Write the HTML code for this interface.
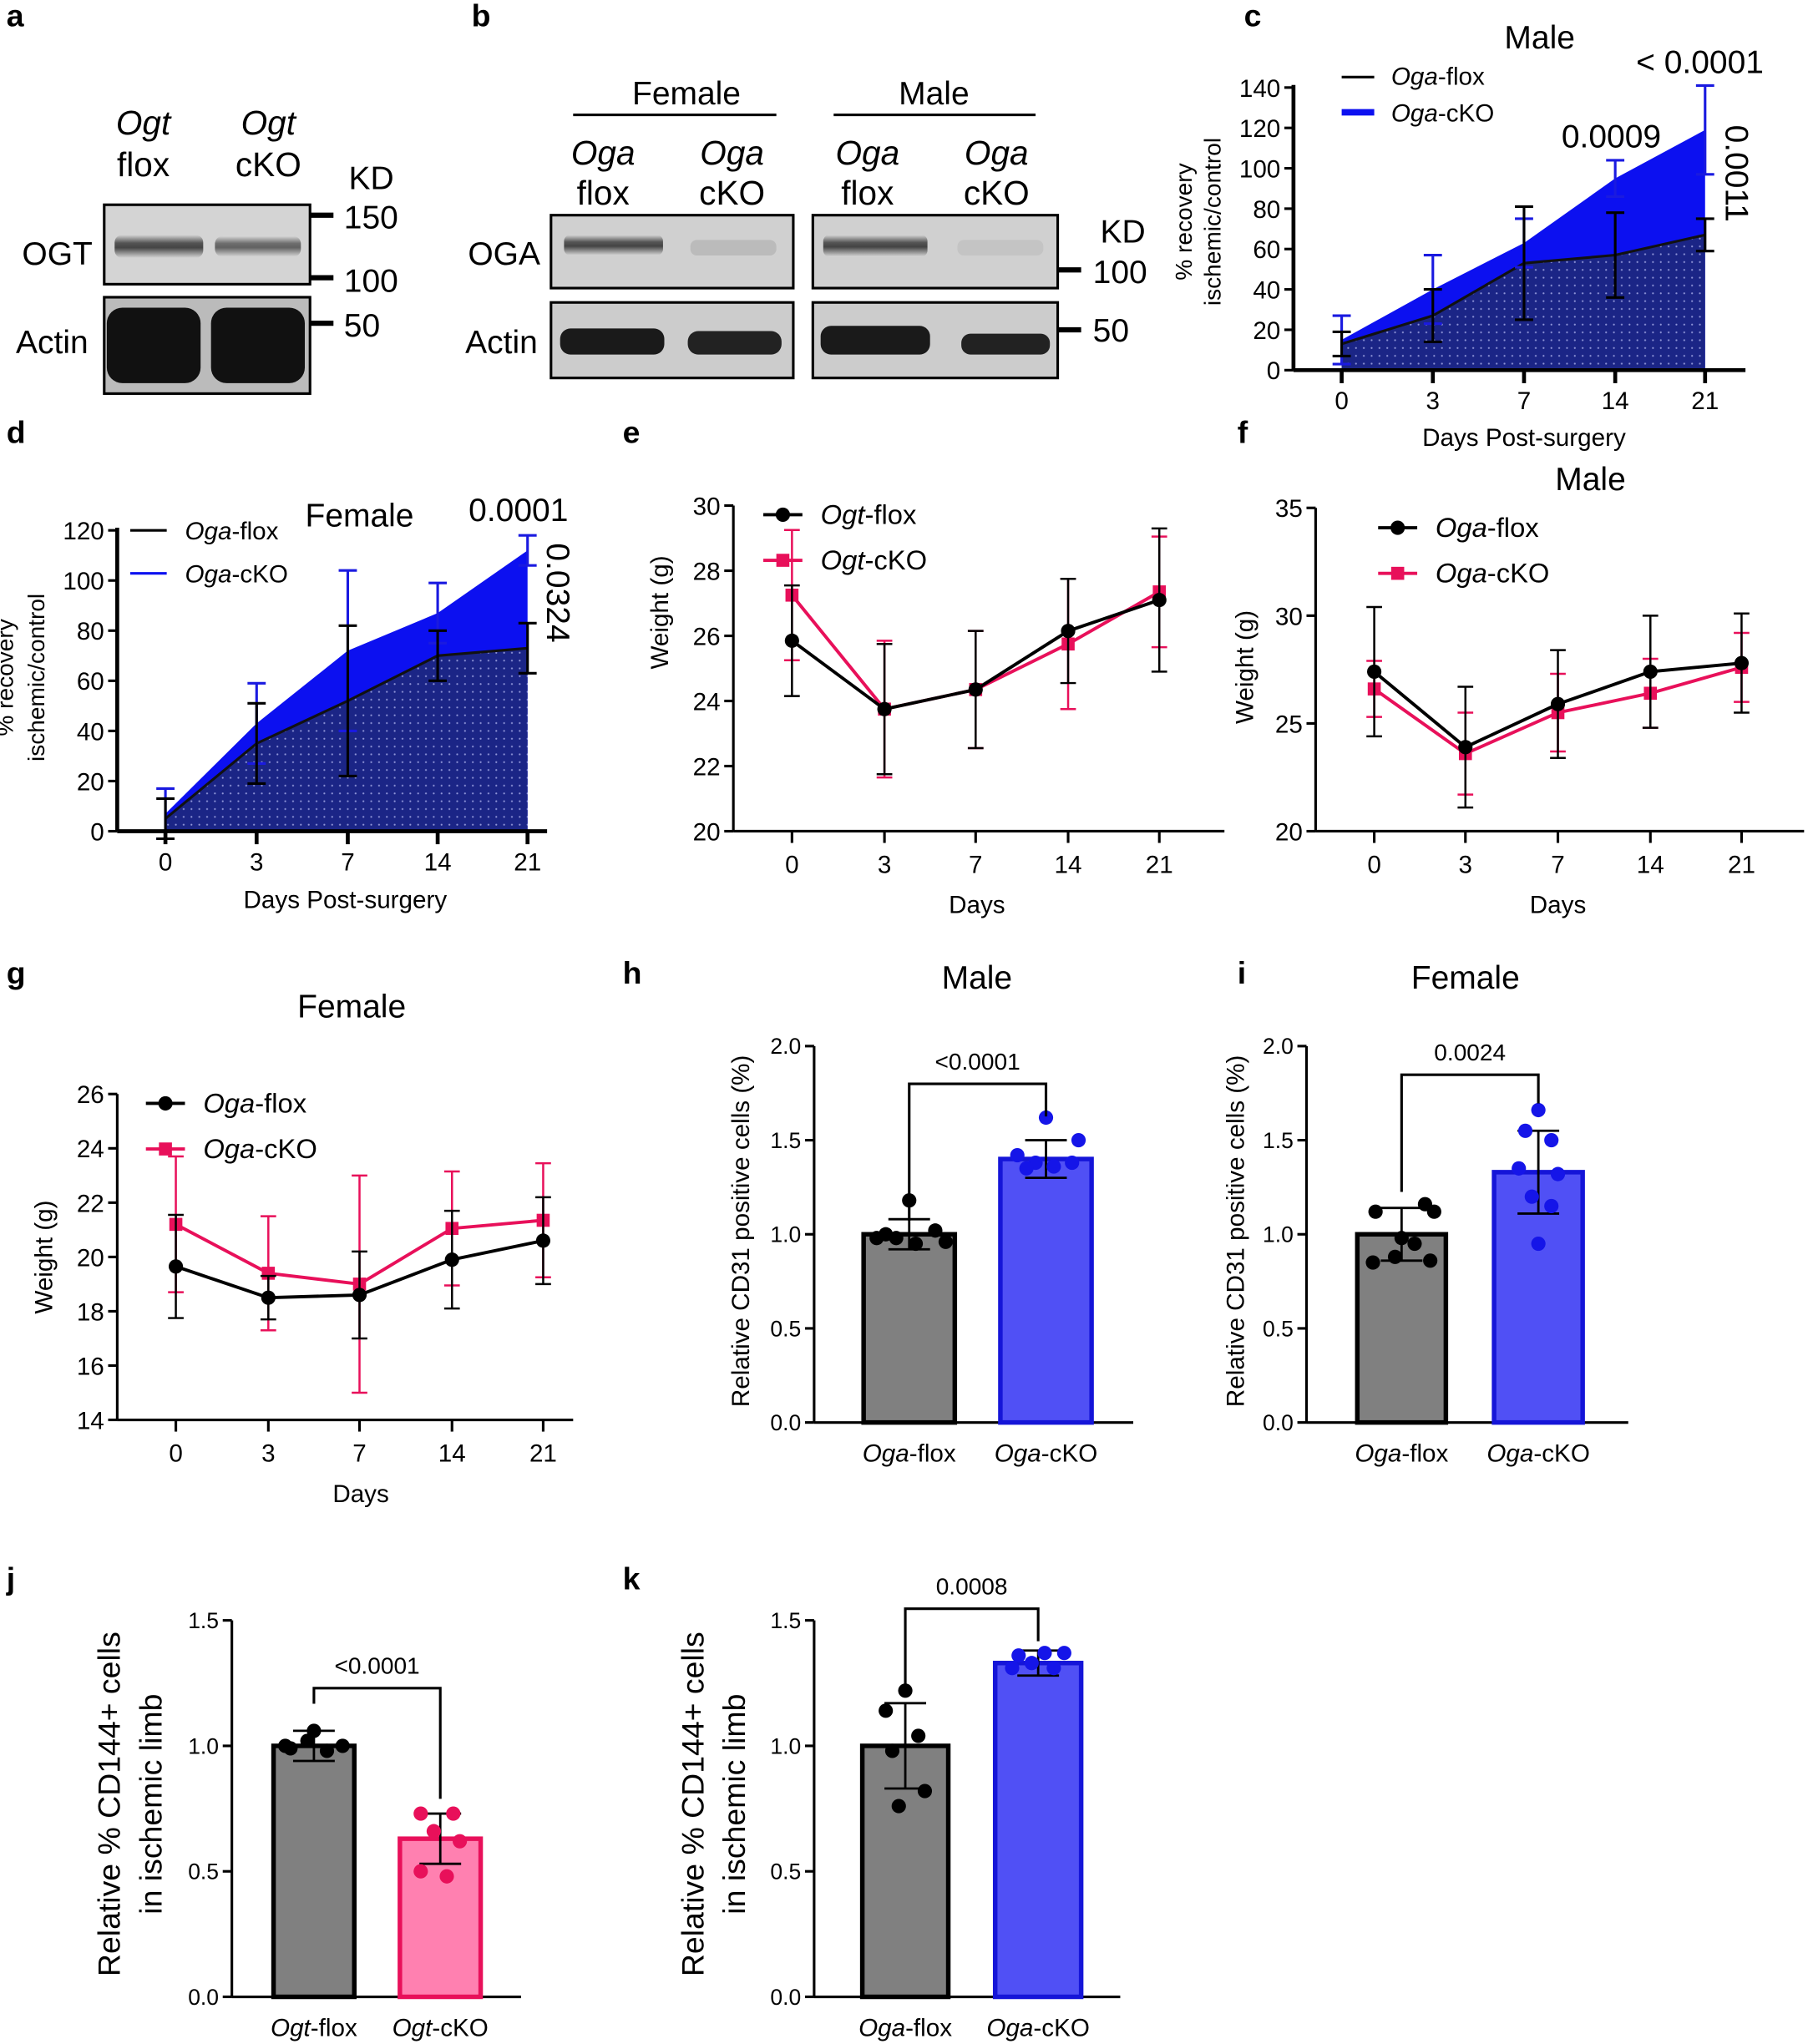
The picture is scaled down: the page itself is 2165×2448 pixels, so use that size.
<!DOCTYPE html>
<html><head><meta charset="utf-8"><style>
html,body{margin:0;padding:0;background:#fff}
svg{display:block}
text{font-family:"Liberation Sans",Arial,sans-serif;fill:#000}
</style></head><body>
<svg id="s" xmlns="http://www.w3.org/2000/svg" width="2165" height="2448" viewBox="0 0 1388 1569">
<defs>
<pattern id="dots" width="6" height="6" patternUnits="userSpaceOnUse"><rect width="6" height="6" fill="#1b2586"/><circle cx="3" cy="3" r="0.7" fill="#8f95d8"/></pattern>
<linearGradient id="band" x1="0" x2="0" y1="0" y2="1"><stop offset="0" stop-color="#d8d8d8"/><stop offset="0.35" stop-color="#555"/><stop offset="0.55" stop-color="#444"/><stop offset="1" stop-color="#d8d8d8"/></linearGradient>
</defs>
</svg>
<script>
const S=document.getElementById('s');let h='';
function T(x,y,t,sz,o){o=o||{};h+=`<text x="${x}" y="${y}" font-size="${sz}" text-anchor="${o.a||'middle'}" ${o.b?'font-weight="bold"':''} ${o.r!==undefined?`transform="rotate(${o.r} ${x} ${y})"`:''} ${o.i?'font-style="italic"':''}>${t}</text>`;}
function TI(x,y,it,rest,sz,o){o=o||{};h+=`<text x="${x}" y="${y}" font-size="${sz}" text-anchor="${o.a||'middle'}" ${o.r!==undefined?`transform="rotate(${o.r} ${x} ${y})"`:''}><tspan font-style="italic">${it}</tspan>${rest}</text>`;}
function L(x1,y1,x2,y2,c,w){h+=`<line x1="${x1}" y1="${y1}" x2="${x2}" y2="${y2}" stroke="${c||'#000'}" stroke-width="${w||2}"/>`;}
function R(x,y,w,hh,f,st,sw){h+=`<rect x="${x}" y="${y}" width="${w}" height="${hh}" fill="${f}" ${st?`stroke="${st}" stroke-width="${sw||2}"`:''}/>`;}
// panel letters
[['a',5,20],['b',362,20],['c',955,20],['d',5,340],['e',478,340],['f',950,340],['g',5,755],['h',478,755],['i',950,755],['j',5,1220],['k',478,1220]].forEach(p=>T(p[1],p[2],p[0],24,{b:1,a:'start'}));
// panel a
T(110,103,'Ogt',26,{i:1});T(110,135,'flox',26);T(206,103,'Ogt',26,{i:1});T(206,135,'cKO',26);
T(285,145,'KD',25);
R(80,157,158,61,'#d4d4d4','#000',2);
h+=`<rect x="88" y="180" width="68" height="18" rx="6" fill="url(#band)"/><rect x="165" y="181" width="66" height="16" rx="6" fill="url(#band)" opacity="0.8"/>`;
R(80,228,158,74,'#bbb','#000',2);
h+=`<rect x="82" y="236" width="72" height="58" rx="12" fill="#111"/><rect x="162" y="236" width="72" height="58" rx="12" fill="#111"/>`;
L(238,165,256,165,'#000',4);L(238,213,256,213,'#000',4);L(238,248,256,248,'#000',4);
T(264,175,'150',25,{a:'start'});T(264,224,'100',25,{a:'start'});T(264,258,'50',25,{a:'start'});
T(44,203,'OGT',25);T(40,271,'Actin',25);
// panel b
T(527,80,'Female',25);L(440,88,596,88,'#000',2);T(717,80,'Male',25);L(640,88,795,88,'#000',2);
[[463,'Oga','flox'],[562,'Oga','cKO'],[666,'Oga','flox'],[765,'Oga','cKO']].forEach(p=>{T(p[0],126,p[1],26,{i:1});T(p[0],157,p[2],26);});
R(423,165,186,56,'#d0d0d0','#000',2);R(624,165,188,56,'#d0d0d0','#000',2);
h+=`<rect x="433" y="180" width="76" height="16" rx="5" fill="url(#band)"/><rect x="530" y="184" width="66" height="12" rx="5" fill="#bbb"/><rect x="632" y="180" width="80" height="17" rx="5" fill="url(#band)"/><rect x="735" y="184" width="66" height="12" rx="5" fill="#c4c4c4"/>`;
R(423,232,186,58,'#ccc','#000',2);R(624,232,188,58,'#ccc','#000',2);
h+=`<rect x="430" y="252" width="80" height="20" rx="8" fill="#1a1a1a"/><rect x="528" y="254" width="72" height="18" rx="8" fill="#222"/><rect x="630" y="250" width="84" height="22" rx="8" fill="#1a1a1a"/><rect x="738" y="256" width="68" height="16" rx="7" fill="#222"/>`;
T(862,186,'KD',25);L(812,207,830,207,'#000',4);L(812,253,830,253,'#000',4);T(839,217,'100',25,{a:'start'});T(839,262,'50',25,{a:'start'});
T(387,203,'OGA',25);T(385,271,'Actin',25);
// area charts
function area(o){const Y=v=>o.y0-(v-o.min)*o.k;
 const xs=o.xs;
 // cKO area
 let p=`M${xs[0]},${Y(0)} `+xs.map((x,i)=>`L${x},${Y(o.ko[i])}`).join(' ')+` L${xs[4]},${Y(0)}Z`;
 h+=`<path d="${p}" fill="#0c10f0"/>`;
 p=`M${xs[0]},${Y(0)} `+xs.map((x,i)=>`L${x},${Y(o.fl[i])}`).join(' ')+` L${xs[4]},${Y(0)}Z`;
 h+=`<path d="${p}" fill="url(#dots)"/>`;
 h+=`<polyline points="${xs.map((x,i)=>x+','+Y(o.fl[i])).join(' ')}" fill="none" stroke="#111" stroke-width="2"/>`;
 xs.forEach((x,i)=>{const a=Y(o.ko[i]+o.koe[i]),b=Y(o.ko[i]-o.koe[i]);L(x,a,x,b,'#1a1ae0',2);L(x-7,a,x+7,a,'#1a1ae0',2);L(x-7,b,x+7,b,'#1a1ae0',2);
  const c=Y(o.fl[i]+o.fle[i]),d=Y(o.fl[i]-o.fle[i]);L(x,c,x,d,'#000',2);L(x-7,c,x+7,c,'#000',2);L(x-7,d,x+7,d,'#000',2);});
 L(o.ax,Y(0),o.ax,o.ytop,'#000',3);L(o.ax,Y(0),o.xend,Y(0),'#000',3);
 o.ticks.forEach(t=>{L(o.ax-7,Y(t),o.ax,Y(t),'#000',2);T(o.ax-10,Y(t)+7,t,o.fs,{a:'end'});});
 xs.forEach((x,i)=>{L(x,Y(0),x,Y(0)+10,'#000',3);T(x,Y(0)+30,[0,3,7,14,21][i],o.fs);});
}
area({xs:[1030,1100,1170,1240,1309],y0:284,min:0,k:1.55,ax:993,ytop:65,xend:1340,fs:19,
 fl:[13,27,53,57,67],fle:[6,13,28,21,8],ko:[15,40,63,95,119],koe:[12,17,12,9,22],ticks:[0,20,40,60,80,100,120,140]});
L(1030,59,1055,59,'#000',2);TI(1068,65,'Oga','-flox',19,{a:'start'});L(1030,86,1055,86,'#0c10f0',5);TI(1068,93,'Oga','-cKO',19,{a:'start'});
T(1182,37,'Male',25);T(1305,56,'&lt; 0.0001',25);T(1237,113,'0.0009',25);T(1325,133,'0.0011',25,{r:90});
T(1170,342,'Days Post-surgery',19);T(915,170,'% recovery',18,{r:-90});T(937,170,'ischemic/control',18,{r:-90});
area({xs:[127,197,267,336,405],y0:638,min:0,k:1.925,ax:90,ytop:405,xend:420,fs:19,
 fl:[5,35,52,70,73],fle:[8,16,30,10,10],ko:[7,43,72,87,112],koe:[10,16,32,12,6],ticks:[0,20,40,60,80,100,120]});
L(100,407,128,407,'#000',2);TI(142,414,'Oga','-flox',19,{a:'start'});L(100,440,128,440,'#0c10f0',2);TI(142,447,'Oga','-cKO',19,{a:'start'});
T(276,404,'Female',25);T(398,400,'0.0001',25);T(420,455,'0.0324',25,{r:90});
T(265,697,'Days Post-surgery',19);T(10,520,'% recovery',18,{r:-90});T(34,520,'ischemic/control',18,{r:-90});
// line charts
function line(o){const Y=v=>o.y0-(v-o.min)*o.k;const xs=o.xs;
 L(o.ax,Y(o.min),o.ax,Y(o.max),'#000',2);L(o.ax,Y(o.min),o.xend,Y(o.min),'#000',2);
 o.ticks.forEach(t=>{L(o.ax-7,Y(t),o.ax,Y(t),'#000',2);T(o.ax-10,Y(t)+7,t,19,{a:'end'});});
 xs.forEach((x,i)=>{L(x,Y(o.min),x,Y(o.min)+9,'#000',2);T(x,Y(o.min)+32,[0,3,7,14,21][i],19);});
 [[o.ko,o.koe,'#e8105a','s'],[o.fl,o.fle,'#000','c']].forEach(s=>{
  xs.forEach((x,i)=>{const a=Y(s[0][i]+s[1][i]),b=Y(s[0][i]-s[1][i]);L(x,a,x,b,s[2],1.6);L(x-6,a,x+6,a,s[2],1.6);L(x-6,b,x+6,b,s[2],1.6);});
  h+=`<polyline points="${xs.map((x,i)=>x+','+Y(s[0][i])).join(' ')}" fill="none" stroke="${s[2]}" stroke-width="2.5"/>`;
  xs.forEach((x,i)=>{if(s[3]=='c')h+=`<circle cx="${x}" cy="${Y(s[0][i])}" r="5.5" fill="#000"/>`;else R(x-5,Y(s[0][i])-5,10,10,s[2]);});
 });
 const lx=o.lx,ly=o.ly;L(lx,ly,lx+30,ly,'#000',2.5);h+=`<circle cx="${lx+15}" cy="${ly}" r="5.5"/>`;TI(lx+44,ly+7,o.g,'-flox',21,{a:'start'});
 L(lx,ly+35,lx+30,ly+35,'#e8105a',2.5);R(lx+10,ly+30,10,10,'#e8105a');TI(lx+44,ly+42,o.g,'-cKO',21,{a:'start'});
}
line({xs:[608,679,749,820,890],y0:638,min:20,max:30,k:25,ax:563,xend:940,ticks:[20,22,24,26,28,30],
 fl:[25.85,23.75,24.35,26.15,27.1],fle:[1.7,2.0,1.8,1.6,2.2],ko:[27.25,23.75,24.35,25.75,27.35],koe:[2.0,2.1,1.8,2.0,1.7],lx:586,ly:395,g:'Ogt'});
T(750,701,'Days',19);T(513,470,'Weight (g)',19,{r:-90});
line({xs:[1055,1125,1196,1267,1337],y0:638,min:20,max:35,k:16.55,ax:1010,xend:1385,ticks:[20,25,30,35],
 fl:[27.4,23.9,25.9,27.4,27.8],fle:[3.0,2.8,2.5,2.6,2.3],ko:[26.6,23.6,25.5,26.4,27.6],koe:[1.3,1.9,1.8,1.6,1.6],lx:1058,ly:405,g:'Oga'});
T(1196,701,'Days',19);T(962,512,'Weight (g)',19,{r:-90});T(1221,376,'Male',25);
line({xs:[135,206,276,347,417],y0:1090,min:14,max:26,k:20.85,ax:90,xend:440,ticks:[14,16,18,20,22,24,26],
 fl:[19.65,18.5,18.6,19.9,20.6],fle:[1.9,0.8,1.6,1.8,1.6],ko:[21.2,19.4,19.0,21.05,21.35],koe:[2.5,2.1,4.0,2.1,2.1],lx:112,ly:847,g:'Oga'});
T(277,1153,'Days',19);T(40,965,'Weight (g)',19,{r:-90});T(270,781,'Female',25);
// bar charts
function bar(o){const Y=v=>o.y0-v*o.k;
 L(o.ax,Y(0),o.ax,Y(o.max),'#000',2);L(o.ax,Y(0),o.xend,Y(0),'#000',2);
 o.ticks.forEach(t=>{L(o.ax-7,Y(t),o.ax,Y(t),'#000',2);T(o.ax-10,Y(t)+6,t.toFixed(1),17,{a:'end'});});
 o.bars.forEach(b=>{R(b.x,Y(b.v),b.w,Y(0)-Y(b.v),b.f,b.s,3.5);const cx=b.x+b.w/2;
  const a=Y(b.v+b.e),c=Y(b.v-b.e);L(cx,a,cx,c,'#000',1.8);L(cx-16,a,cx+16,a,'#000',1.8);L(cx-16,c,cx+16,c,'#000',1.8);
  b.pts.forEach((p,i)=>h+=`<circle cx="${cx+p[0]}" cy="${Y(p[1])}" r="5.5" fill="${b.d}"/>`);
  TI(cx,Y(0)+30,o.g,b.l,19);});
 const x1=o.bars[0].x+o.bars[0].w/2,x2=o.bars[1].x+o.bars[1].w/2;
 h+=`<polyline points="${x1},${o.by+(o.bd||30)} ${x1},${o.by} ${x2},${o.by} ${x2},${o.by+(o.bd2||20)}" fill="none" stroke="#000" stroke-width="2"/>`;
 T((x1+x2)/2,o.by-11,o.p,18);
}
const G='#808080',B='#5050f5';
bar({y0:1092,k:144.5,ax:625,xend:870,max:2,ticks:[0,0.5,1,1.5,2],g:'Oga',by:832,bd:105,bd2:25,p:'&lt;0.0001',
 bars:[{x:663,w:70,v:1.0,e:0.08,f:G,s:'#000',d:'#000',l:'-flox',pts:[[0,1.18],[-25,0.98],[-10,0.98],[5,0.95],[20,1.02],[28,0.96],[-18,1.0]]},
 {x:768,w:70,v:1.4,e:0.1,f:B,s:'#1515d8',d:'#1515e8',l:'-cKO',pts:[[0,1.62],[-22,1.42],[-8,1.38],[6,1.36],[20,1.38],[25,1.5],[-15,1.35]]}]});
T(750,759,'Male',25);T(575,945,'Relative CD31 positive cells (%)',19,{r:-90});
bar({y0:1092,k:144.5,ax:1003,xend:1250,max:2,ticks:[0,0.5,1,1.5,2],g:'Oga',by:825,bd:90,bd2:22,p:'0.0024',
 bars:[{x:1042,w:68,v:1.0,e:0.14,f:G,s:'#000',d:'#000',l:'-flox',pts:[[-20,1.12],[18,1.16],[25,1.12],[-22,0.85],[-5,0.88],[10,0.95],[22,0.86],[0,0.98]]},
 {x:1147,w:68,v:1.33,e:0.22,f:B,s:'#1515d8',d:'#1515e8',l:'-cKO',pts:[[0,1.66],[-10,1.55],[10,1.5],[-15,1.35],[15,1.32],[-5,1.2],[10,1.15],[0,0.95]]}]});
T(1125,759,'Female',25);T(955,945,'Relative CD31 positive cells (%)',19,{r:-90});
bar({y0:1533,k:192.7,ax:178,xend:400,max:1.5,ticks:[0,0.5,1,1.5],g:'Ogt',by:1296,bd:12,bd2:85,p:'&lt;0.0001',
 bars:[{x:210,w:62,v:1.0,e:0.06,f:G,s:'#000',d:'#000',l:'-flox',pts:[[0,1.06],[-18,0.99],[-5,1.02],[10,0.98],[22,1.0],[-22,1.0]]},
 {x:307,w:62,v:0.63,e:0.1,f:'#ff80b0',s:'#e8105a',d:'#e8105a',l:'-cKO',pts:[[-15,0.73],[10,0.73],[-5,0.66],[15,0.62],[-15,0.5],[5,0.48]]}]});
T(92,1385,'Relative %  CD144+ cells',24,{r:-90});T(124,1385,'in ischemic limb',24,{r:-90});
bar({y0:1533,k:192.7,ax:625,xend:860,max:1.5,ticks:[0,0.5,1,1.5],g:'Oga',by:1235,bd:60,bd2:25,p:'0.0008',
 bars:[{x:662,w:66,v:1.0,e:0.17,f:G,s:'#000',d:'#000',l:'-flox',pts:[[0,1.22],[-15,1.14],[10,1.04],[-10,0.98],[15,0.82],[-5,0.76]]},
 {x:764,w:66,v:1.33,e:0.05,f:B,s:'#1515d8',d:'#1515e8',l:'-cKO',pts:[[-15,1.36],[5,1.37],[20,1.37],[-20,1.31],[12,1.31],[-5,1.33]]}]});
T(540,1385,'Relative %  CD144+ cells',24,{r:-90});T(572,1385,'in ischemic limb',24,{r:-90});
S.insertAdjacentHTML('beforeend',h);
</script>
</body></html>
